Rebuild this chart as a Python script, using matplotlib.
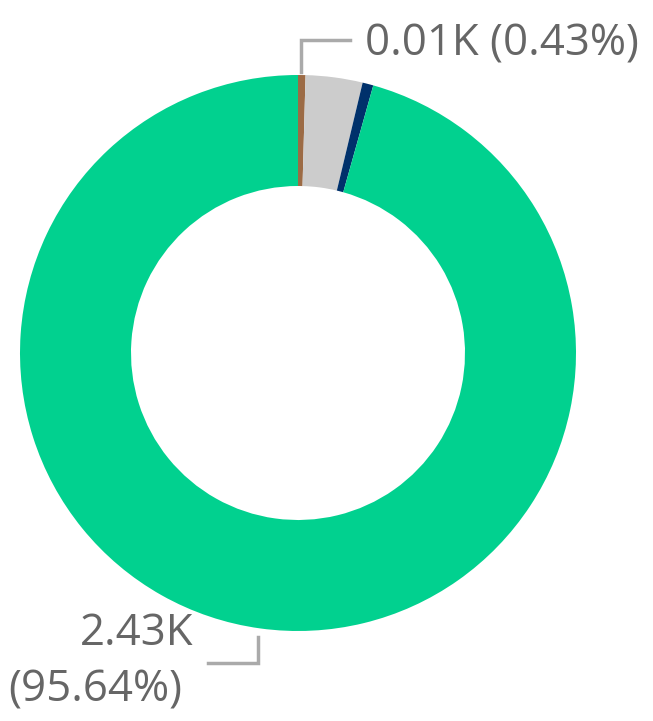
import matplotlib.pyplot as plt

# Werte (Anzahl) je Segment, im Uhrzeigersinn ab 12 Uhr
kategorien = ["Braun", "Grau", "Blau", "Grün"]
werte = [11, 84, 16, 2432]
farben = ["#9C6B45", "#CCCCCC", "#00316B", "#01D18F"]

gesamt = sum(werte)


def label_text(v):
    return f"{v / 1000:.2f}K ({v / gesamt:.2%})"


W, H = 653, 721
fig = plt.figure(figsize=(W / 100, H / 100), dpi=100)
ax = fig.add_axes([0, 0, 1, 1])

cx, cy, r = 298, H - 353, 278
ax.pie(werte, colors=farben, startangle=90, counterclock=False,
       center=(cx, cy), radius=r, frame=True,
       wedgeprops=dict(width=111, linewidth=0))
ax.set_xlim(0, W)
ax.set_ylim(0, H)
ax.set_aspect("equal")
ax.axis("off")

txt_farbe = "#666666"
linie = "#AAAAAA"
schrift = ["Open Sans", "DejaVu Sans"]
gr = 31.5

# Beschriftung kleines Segment oben
ax.plot([301, 301, 350], [H - 72, H - 40, H - 40], color=linie, lw=2.5,
        solid_joinstyle="miter")
ax.text(365, H - 44, label_text(werte[0]), fontsize=gr, color=txt_farbe,
        family=schrift, ha="left", va="center")

# Beschriftung grosses Segment unten
ax.plot([258, 258, 208], [H - 637, H - 663, H - 663], color=linie, lw=2.5,
        solid_joinstyle="miter")
ax.text(193, H - 634, f"{werte[3] / 1000:.2f}K", fontsize=gr, color=txt_farbe,
        family=schrift, ha="right", va="center")
ax.text(8, H - 690, f"({werte[3] / gesamt:.2%})", fontsize=gr, color=txt_farbe,
        family=schrift, ha="left", va="center")

fig.savefig("out.png", dpi=100)
